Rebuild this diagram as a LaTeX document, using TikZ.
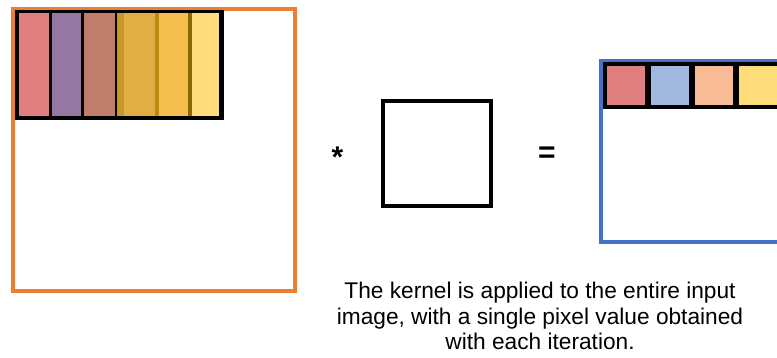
\documentclass[tikz,border=0pt]{standalone}
\usepackage{fontspec}
\setmainfont{Liberation Sans}
\usepackage{tikz}
\usetikzlibrary{positioning}
\definecolor{InOrange}{HTML}{ED7D31}
\definecolor{OutBlue}{HTML}{4472C4}
\definecolor{CellPink}{HTML}{E07F80}
\definecolor{CellPurple}{HTML}{9478A2}
\definecolor{CellBrown}{HTML}{C07D6A}
\definecolor{CellShade}{HTML}{C8972A}
\definecolor{CellGold}{HTML}{E1AE44}
\definecolor{CellAmber}{HTML}{F6BE4F}
\definecolor{CellYellow}{HTML}{FEDC7A}
\definecolor{EdgeGold}{HTML}{BF8A10}
\definecolor{EdgeOlive}{HTML}{8A6A00}
\definecolor{CellBlue}{HTML}{A0B8E0}
\definecolor{CellPeach}{HTML}{F7BC96}

\begin{document}
\begin{tikzpicture}[
  x=1pt,y=-1pt,
  frame/.style={draw,line width=4pt,inner sep=0pt,outer sep=0pt},
  strip/.style={fill=black,inner sep=0pt,outer sep=0pt},
  cell/.style={inner sep=0pt,outer sep=0pt,minimum height=103pt},
  pix/.style={inner sep=0pt,outer sep=0pt,minimum height=39pt,minimum width=38pt},
  sign/.style={font=\bfseries\fontsize{30}{30}\selectfont,inner sep=0pt,anchor=base}
]
\useasboundingbox (0,0) rectangle (777,358);
\clip (0,0) rectangle (777,358);
% input image and the window sliding over it
\node[frame,draw=InOrange,minimum width=282pt,minimum height=282.5pt] (input) at (154,150.25) {};
\node[strip,minimum width=209pt,minimum height=110pt] (window) at (119.5,65) {};
\node[cell,fill=CellPink,minimum width=30pt,anchor=west] (c1) at ([xshift=4pt]window.west) {};
\node[cell,fill=CellPurple,minimum width=29pt,right=3pt of c1] (c2) {};
\node[cell,fill=CellBrown,minimum width=31pt,right=3pt of c2] (c3) {};
\node[cell,fill=CellShade,minimum width=7pt,right=2pt of c3] (c4) {};
\node[cell,fill=CellGold,minimum width=31pt,right=0pt of c4] (c5) {};
\node[cell,fill=EdgeGold,minimum width=4pt,right=0pt of c5] (d1) {};
\node[cell,fill=CellAmber,minimum width=29pt,right=0pt of d1] (c6) {};
\node[cell,fill=EdgeOlive,minimum width=4pt,right=0pt of c6] (d2) {};
\node[cell,fill=CellYellow,minimum width=27pt,right=0pt of d2] (c7) {};
% operators and kernel
\node[sign] (times) at (337.5,168) {*};
\node[frame,draw=black,minimum width=108pt,minimum height=105pt] (kernel) at (437,153.5) {};
\node[sign] (equals) at (547,163) {=};
% output feature map
\node[frame,draw=OutBlue,minimum width=200pt,minimum height=180.5pt,anchor=north west] (output) at (600.5,61.5) {};
\node[strip,minimum width=200pt,minimum height=47pt,anchor=north west] (row) at (603,62) {};
\node[pix,fill=CellPink,anchor=west] (o1) at ([xshift=4pt]row.west) {};
\node[pix,fill=CellBlue,right=6pt of o1] (o2) {};
\node[pix,fill=CellPeach,right=6pt of o2] (o3) {};
\node[pix,fill=CellYellow,right=6pt of o3] (o4) {};
% caption
\node[font=\fontsize{22.7}{25.5}\selectfont,align=center] (caption) at (540,316)
  {The kernel is applied to the entire input\\image, with a single pixel value obtained\\with each iteration.};
\end{tikzpicture}
\end{document}
